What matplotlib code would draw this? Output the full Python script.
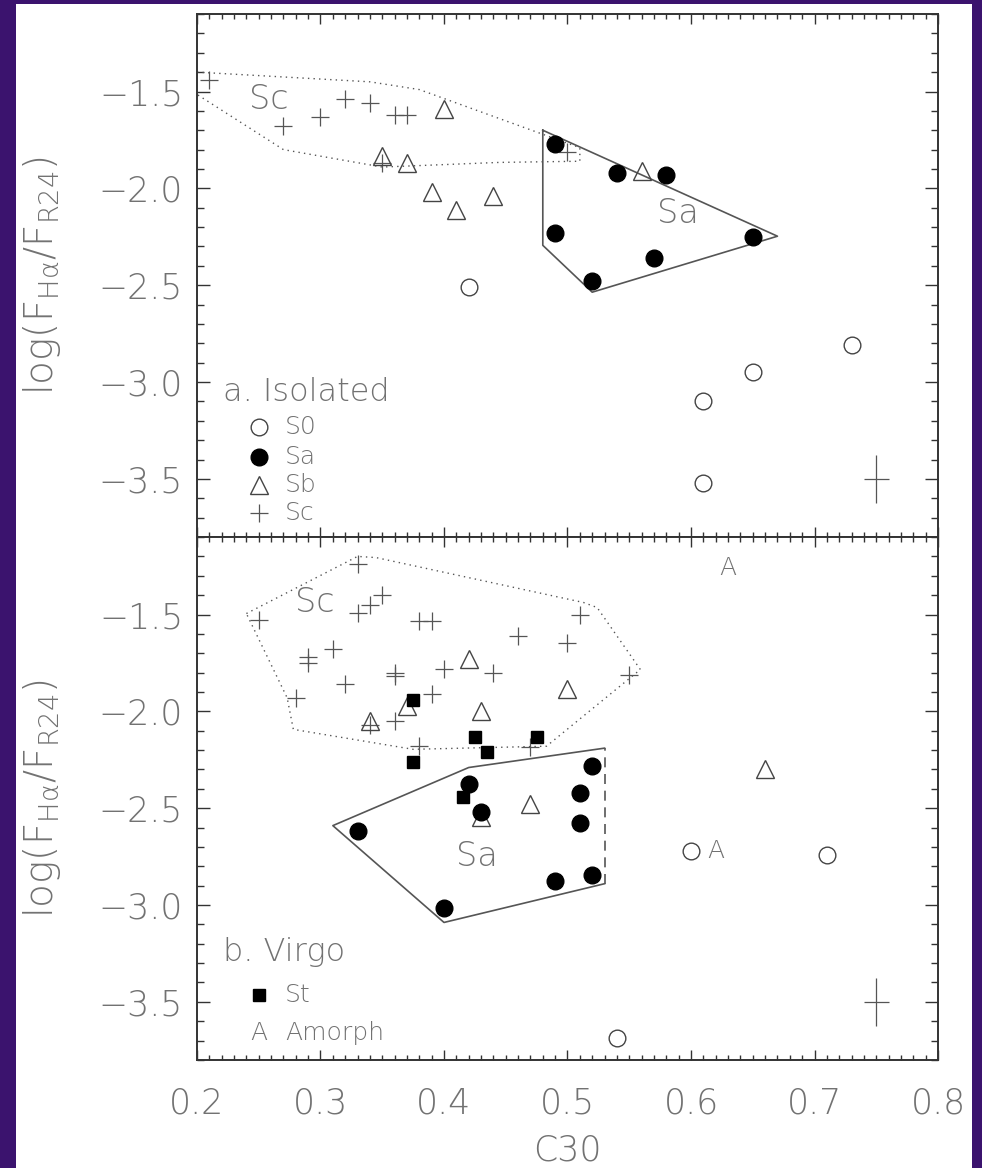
import matplotlib
matplotlib.use("Agg")
import matplotlib.pyplot as plt
from matplotlib.patches import Rectangle
from matplotlib.ticker import MultipleLocator

# ---- panel a: isolated galaxies ----
iso_s0_x = [0.42, 0.61, 0.61, 0.65, 0.73]
iso_s0_y = [-2.51, -3.10, -3.52, -2.95, -2.81]
iso_sa_x = [0.49, 0.54, 0.58, 0.49, 0.57, 0.52, 0.65]
iso_sa_y = [-1.77, -1.92, -1.93, -2.23, -2.36, -2.48, -2.25]
iso_sb_x = [0.40, 0.35, 0.37, 0.39, 0.41, 0.44, 0.56]
iso_sb_y = [-1.59, -1.835, -1.87, -2.02, -2.11, -2.04, -1.91]
iso_sc_x = [0.21, 0.27, 0.30, 0.32, 0.34, 0.36, 0.37, 0.35, 0.50]
iso_sc_y = [-1.44, -1.68, -1.63, -1.54, -1.56, -1.62, -1.62, -1.87, -1.81]

iso_sc_poly_x = [0.20, 0.34, 0.38, 0.51, 0.51, 0.445, 0.35, 0.27, 0.20]
iso_sc_poly_y = [-1.40, -1.45, -1.49, -1.79, -1.86, -1.866, -1.89, -1.80, -1.515]
iso_sa_poly_x = [0.48, 0.48, 0.52, 0.67, 0.48]
iso_sa_poly_y = [-1.70, -2.294, -2.536, -2.247, -1.70]

# ---- panel b: Virgo galaxies ----
vir_s0_x = [0.60, 0.71, 0.54]
vir_s0_y = [-2.72, -2.74, -3.685]
vir_sa_x = [0.42, 0.43, 0.33, 0.52, 0.51, 0.51, 0.49, 0.52, 0.40]
vir_sa_y = [-2.375, -2.52, -2.62, -2.28, -2.42, -2.575, -2.876, -2.845, -3.015]
vir_sb_x = [0.42, 0.50, 0.37, 0.34, 0.43, 0.47, 0.43, 0.66]
vir_sb_y = [-1.73, -1.885, -1.97, -2.05, -2.00, -2.48, -2.545, -2.30]
vir_sc_x = [0.33, 0.25, 0.33, 0.34, 0.35, 0.38, 0.39, 0.29, 0.29, 0.31, 0.28, 0.32, 0.36,
            0.36, 0.40, 0.39, 0.44, 0.46, 0.51, 0.50, 0.55, 0.36, 0.34, 0.38, 0.47]
vir_sc_y = [-1.24, -1.53, -1.49, -1.45, -1.40, -1.535, -1.535, -1.72, -1.75, -1.68, -1.93, -1.86, -1.80,
            -1.82, -1.78, -1.91, -1.80, -1.61, -1.505, -1.645, -1.81, -2.05, -2.07, -2.18, -2.185]
vir_st_x = [0.375, 0.425, 0.435, 0.475, 0.375, 0.415]
vir_st_y = [-1.94, -2.13, -2.21, -2.13, -2.26, -2.44]
vir_am_x = [0.63, 0.62]
vir_am_y = [-1.26, -2.72]

vir_sc_poly_x = [0.24, 0.33, 0.345, 0.513, 0.524, 0.559, 0.483, 0.375, 0.278, 0.273, 0.24]
vir_sc_poly_y = [-1.495, -1.20, -1.206, -1.438, -1.464, -1.784, -2.18, -2.196, -2.093, -1.93, -1.495]
vir_sa_poly_x = [0.53, 0.42, 0.31, 0.40, 0.53]
vir_sa_poly_y = [-2.19, -2.29, -2.59, -3.09, -2.89]
vir_sa_open_x = [0.53, 0.53]
vir_sa_open_y = [-2.89, -2.19]

# typical error bar
err_x, err_y = [0.75], [-3.5]
err_dx, err_dy = 0.01, 0.125

x_ticks = [0.2, 0.3, 0.4, 0.5, 0.6, 0.7, 0.8]
y_ticks = [-3.5, -3.0, -2.5, -2.0, -1.5]

TXT = "#727272"
LN = "#444444"

plt.rcParams["font.family"] = ["DejaVu Sans"]
plt.rcParams["font.weight"] = 200
plt.rcParams["axes.labelweight"] = 200
plt.rcParams["mathtext.fontset"] = "custom"
plt.rcParams["mathtext.rm"] = "DejaVu Sans:extralight"
plt.rcParams["mathtext.it"] = "DejaVu Sans:extralight"
plt.rcParams["mathtext.default"] = "regular"

fig = plt.figure(figsize=(9.82, 11.68), dpi=100, facecolor="#3b136e")
fig.patches.append(Rectangle((16 / 982, 0), 956 / 982, 1164 / 1168,
                             transform=fig.transFigure, facecolor="white",
                             edgecolor="none", zorder=-5))

ax1 = fig.add_axes([0.2006, 0.5402, 0.7546, 0.4478])
ax2 = fig.add_axes([0.2006, 0.0925, 0.7546, 0.4477])

dot = (0, (1, 3))


def style_axes(ax, bottom_labels):
    ax.set_xlim(0.2, 0.8)
    ax.set_ylim(-3.8, -1.1)
    ax.set_xticks(x_ticks)
    ax.set_yticks(y_ticks)
    ax.xaxis.set_minor_locator(MultipleLocator(0.01))
    ax.yaxis.set_minor_locator(MultipleLocator(0.1))
    ax.tick_params(axis="both", which="both", direction="in", top=True, right=True,
                   color="#333333", labelcolor=TXT, labelsize=25, width=1.0)
    ax.tick_params(axis="x", which="major", length=7, pad=19)
    ax.tick_params(axis="x", which="minor", length=3.5)
    ax.tick_params(axis="y", which="major", length=9.5, pad=10)
    ax.tick_params(axis="y", which="minor", length=5)
    ax.set_yticklabels([f"{v:.1f}".replace("-", "\u2212") for v in y_ticks])
    if bottom_labels:
        ax.set_xticklabels([f"{v:.1f}" for v in x_ticks])
    else:
        ax.set_xticklabels([])
    for s in ax.spines.values():
        s.set_linewidth(1.4)
        s.set_color("#333333")
    ax.set_ylabel(r"log(F$_{H\alpha}$/F$_{R24}$)", fontsize=28, color=TXT)
    ax.yaxis.set_label_coords(-0.181, 0.5)


def open_circles(ax, x, y, **kw):
    ax.plot(x, y, "o", ms=12, mfc="white", mec=LN, mew=1.0, ls="none", zorder=4, **kw)


def filled_circles(ax, x, y, **kw):
    ax.plot(x, y, "o", ms=12, color="black", ls="none", zorder=6, **kw)


def triangles(ax, x, y, **kw):
    ax.plot(x, y, "^", ms=13, mfc="none", mec=LN, mew=1.0, ls="none", zorder=5, **kw)


def pluses(ax, x, y, **kw):
    ax.plot(x, y, "+", ms=13, mec="#555555", mew=0.9, ls="none", zorder=4, **kw)


def squares(ax, x, y, **kw):
    ax.plot(x, y, "s", ms=9, color="black", ls="none", zorder=6, **kw)


# ---------- panel a ----------
style_axes(ax1, False)
ax1.plot(iso_sc_poly_x, iso_sc_poly_y, color="#555555", lw=1.0, ls=dot, zorder=2)
ax1.plot(iso_sa_poly_x, iso_sa_poly_y, color="#555555", lw=1.2, zorder=2)
open_circles(ax1, iso_s0_x, iso_s0_y)
filled_circles(ax1, iso_sa_x, iso_sa_y)
triangles(ax1, iso_sb_x, iso_sb_y)
pluses(ax1, iso_sc_x, iso_sc_y)
ax1.errorbar(err_x, err_y, xerr=err_dx, yerr=err_dy, fmt="none", ecolor="#555555",
             elinewidth=0.9, capsize=0)
ax1.text(0.258, -1.54, "Sc", fontsize=24, color=TXT, ha="center", va="center")
ax1.text(0.589, -2.13, "Sa", fontsize=24, color=TXT, ha="center", va="center")

ax1.text(0.035, 0.277, "a. Isolated", transform=ax1.transAxes, fontsize=23,
         color=TXT, ha="left", va="center")
leg_a = [("S0", open_circles), ("Sa", filled_circles), ("Sb", triangles), ("Sc", pluses)]
leg_a_y = [0.210, 0.153, 0.0994, 0.0459]
for (lab, fn), ly in zip(leg_a, leg_a_y):
    fn(ax1, [0.0837], [ly], transform=ax1.transAxes, clip_on=False)
    ax1.text(0.119, ly, lab, transform=ax1.transAxes, fontsize=18, color=TXT,
             ha="left", va="center")

# ---------- panel b ----------
style_axes(ax2, True)
ax2.plot(vir_sc_poly_x, vir_sc_poly_y, color="#555555", lw=1.0, ls=dot, zorder=2)
ax2.plot(vir_sa_poly_x, vir_sa_poly_y, color="#555555", lw=1.2, zorder=2)
ax2.plot(vir_sa_open_x, vir_sa_open_y, color="#555555", lw=1.2, ls=(0, (6, 4)), zorder=2)
open_circles(ax2, vir_s0_x, vir_s0_y)
triangles(ax2, vir_sb_x, vir_sb_y)
pluses(ax2, vir_sc_x, vir_sc_y)
filled_circles(ax2, vir_sa_x, vir_sa_y)
squares(ax2, vir_st_x, vir_st_y)
for xa, ya in zip(vir_am_x, vir_am_y):
    ax2.text(xa, ya, "A", fontsize=18, color=TXT, ha="center", va="center", zorder=5)
ax2.errorbar(err_x, err_y, xerr=err_dx, yerr=err_dy, fmt="none", ecolor="#555555",
             elinewidth=0.9, capsize=0)
ax2.text(0.295, -1.44, "Sc", fontsize=24, color=TXT, ha="center", va="center")
ax2.text(0.427, -2.75, "Sa", fontsize=24, color=TXT, ha="center", va="center")

ax2.text(0.035, 0.2065, "b. Virgo", transform=ax2.transAxes, fontsize=23,
         color=TXT, ha="left", va="center")
squares(ax2, [0.0837], [0.124], transform=ax2.transAxes, clip_on=False)
ax2.text(0.119, 0.124, "St", transform=ax2.transAxes, fontsize=18, color=TXT,
         ha="left", va="center")
ax2.text(0.0837, 0.0516, "A", transform=ax2.transAxes, fontsize=18, color=TXT,
         ha="center", va="center")
ax2.text(0.119, 0.0516, "Amorph", transform=ax2.transAxes, fontsize=18, color=TXT,
         ha="left", va="center")

ax2.set_xlabel("C30", fontsize=25, color=TXT)
ax2.xaxis.set_label_coords(0.5, -0.14)

fig.savefig("out.png", dpi=100, facecolor=fig.get_facecolor())
